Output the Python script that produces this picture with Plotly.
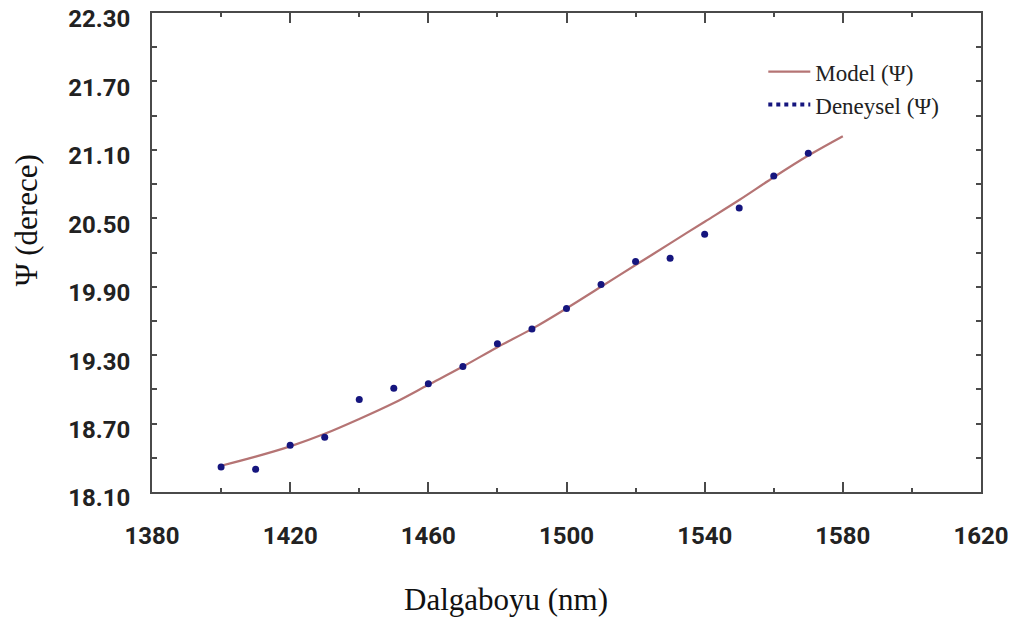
import plotly.graph_objects as go

# ---- data ----
model_wavelength = [1400, 1410, 1420, 1430, 1440, 1450, 1460, 1470, 1480, 1490,
                    1500, 1510, 1520, 1530, 1540, 1550, 1560, 1570, 1580]
model_psi = [18.33, 18.41, 18.50, 18.61, 18.74, 18.88, 19.04, 19.20, 19.37, 19.53,
             19.71, 19.90, 20.09, 20.28, 20.47, 20.66, 20.86, 21.05, 21.22]

exp_wavelength = [1400, 1410, 1420, 1430, 1440, 1450, 1460, 1470, 1480, 1490,
                  1500, 1510, 1520, 1530, 1540, 1550, 1560, 1570]
exp_psi = [18.32, 18.30, 18.51, 18.58, 18.91, 19.01, 19.05, 19.20, 19.40, 19.53,
           19.71, 19.92, 20.12, 20.15, 20.36, 20.59, 20.87, 21.07]

x_ticks = [1380, 1420, 1460, 1500, 1540, 1580, 1620]
y_ticks = [18.10, 18.70, 19.30, 19.90, 20.50, 21.10, 21.70, 22.30]
y_tick_text = ["18.10", "18.70", "19.30", "19.90", "20.50", "21.10", "21.70", "22.30"]

model_name = "Model (Ψ)"
exp_name = "Deneysel (Ψ)"
x_title = "Dalgaboyu (nm)"
y_title = "Ψ (derece)"

# ---- styles ----
LINE_COLOR = "#b57474"
DOT_COLOR = "#15157e"
FRAME = "#4a4a4a"
TICK_FONT = dict(family="Roboto, sans-serif", size=24, color="#222222", weight="bold")
SERIF = "Liberation Serif, Times New Roman, serif"

# page body has an 8px margin; figure fills the rest of the 1016x619 window
OFF = 8
W, H = 1016 - OFF, 619 - OFF
L, T = 151.7 - OFF, 12.7 - OFF
R, B = W - (980.7 - OFF), H - (492.3 - OFF)
PW, PH = W - L - R, H - T - B

fig = go.Figure()
fig.add_trace(go.Scatter(x=model_wavelength, y=model_psi, mode="lines", name=model_name,
                         line=dict(color=LINE_COLOR, width=2.2, shape="spline")))
fig.add_trace(go.Scatter(x=exp_wavelength, y=exp_psi, mode="markers", name=exp_name,
                         marker=dict(color=DOT_COLOR, size=7), showlegend=False))
# legend entry drawn as a dotted line like the original
fig.add_trace(go.Scatter(x=[None], y=[None], mode="lines", name=exp_name,
                         line=dict(color=DOT_COLOR, width=4, dash="dot")))

def px_to_paper(px, py):
    # px, py in screenshot pixels
    return (px - OFF - L) / PW, (H - B - (py - OFF)) / PH

xt_x, xt_y = px_to_paper(506, 600)
yt_x, yt_y = px_to_paper(26, 220)
lg_x, lg_y = px_to_paper(763, 50)

fig.update_layout(
    width=W, height=H,
    margin=dict(l=L, r=R, t=T, b=B),
    paper_bgcolor="white", plot_bgcolor="white",
    showlegend=True,
    legend=dict(x=lg_x, y=lg_y, xanchor="left", yanchor="top", itemwidth=42,
                font=dict(family=SERIF, size=23, color="#222222"),
                bgcolor="rgba(0,0,0,0)", tracegroupgap=0),
    annotations=[
        dict(text=x_title, x=xt_x, y=xt_y, xref="paper", yref="paper", showarrow=False,
             xanchor="center", yanchor="middle",
             font=dict(family=SERIF, size=31, color="#111111")),
        dict(text=y_title, x=yt_x, y=yt_y, xref="paper", yref="paper", showarrow=False,
             xanchor="center", yanchor="middle", textangle=-90,
             font=dict(family=SERIF, size=31, color="#111111")),
    ],
)

fig.update_xaxes(range=[1380 - 1e-6, 1620 + 1e-6], tickvals=x_ticks, ticks="inside", ticklen=10,
                 tickwidth=2, tickcolor=FRAME, showline=True, linecolor=FRAME, linewidth=2,
                 mirror="ticks", showgrid=False, zeroline=False, tickfont=TICK_FONT,
                 ticklabelstandoff=21, automargin=False, ticklabeloverflow="allow",
                 minor=dict(dtick=20, tick0=1380, ticks="inside", ticklen=4, tickwidth=2,
                            tickcolor=FRAME))
fig.update_yaxes(range=[18.10 - 1e-6, 22.30 + 1e-6], tickvals=y_ticks, ticktext=y_tick_text,
                 ticks="inside", ticklen=5, tickwidth=2, tickcolor=FRAME, showline=True,
                 linecolor=FRAME, linewidth=2, mirror="ticks", showgrid=False, zeroline=False,
                 tickfont=TICK_FONT, ticklabelstandoff=15, ticklabelshift=6, automargin=False,
                 ticklabeloverflow="allow",
                 minor=dict(dtick=0.3, tick0=18.10, ticks="inside", ticklen=5, tickwidth=2,
                            tickcolor=FRAME))

fig.write_html("out.html")
